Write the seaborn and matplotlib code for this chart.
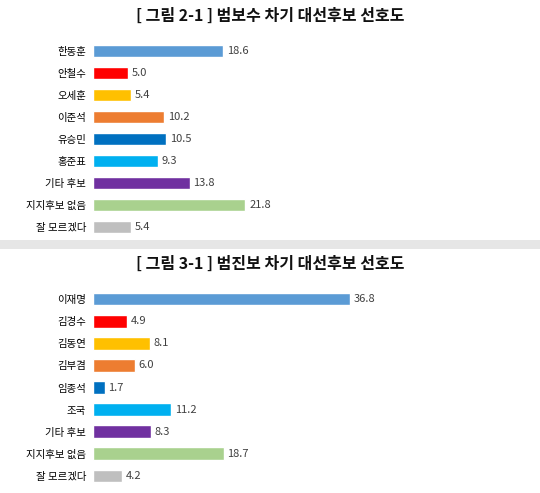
import matplotlib
matplotlib.use("Agg")
import matplotlib.pyplot as plt
import seaborn as sns
from matplotlib.patches import Rectangle

sns.set_style("white")
plt.rcParams['font.family'] = ['Noto Sans CJK KR', 'DejaVu Sans']

# 범보수
후보_보수 = ["한동훈", "안철수", "오세훈", "이준석", "유승민", "홍준표", "기타 후보", "지지후보 없음", "잘 모르겠다"]
값_보수 = [18.6, 5.0, 5.4, 10.2, 10.5, 9.3, 13.8, 21.8, 5.4]
# 범진보
후보_진보 = ["이재명", "김경수", "김동연", "김부겸", "임종석", "조국", "기타 후보", "지지후보 없음", "잘 모르겠다"]
값_진보 = [36.8, 4.9, 8.1, 6.0, 1.7, 11.2, 8.3, 18.7, 4.2]

색상 = ["#5B9BD5", "#FF0000", "#FFC000", "#ED7D31", "#0070C0",
      "#00B0F0", "#7030A0", "#A9D18E", "#BFBFBF"]

W, H = 540, 493
fig = plt.figure(figsize=(W / 100, H / 100), dpi=100)
fig.patch.set_facecolor("white")

def 패널(top_px, bottom_px, names, vals, xmax, title, title_y):
    ax = fig.add_axes([93 / W, 1 - bottom_px / H, 300 / W, (bottom_px - top_px) / H])
    sns.barplot(x=vals, y=names, hue=names, palette=색상, legend=False,
                width=0.58, ax=ax, saturation=1)
    ax.set_xlim(0, xmax)
    for i, v in enumerate(vals):
        ax.text(v + xmax * 0.012, i, f"{v:.1f}", va="center", ha="left",
                fontsize=8, color="#404040")
    ax.set_xticks([])
    ax.set_xlabel("")
    ax.set_ylabel("")
    ax.tick_params(axis="y", length=0, labelsize=7.5, pad=5, colors="#000000")
    for s in ax.spines.values():
        s.set_visible(False)
    fig.text(0.5, 1 - title_y / H, title, ha="center", va="center",
             fontsize=11.5, fontweight="bold", color="#111111")

패널(40, 238, 후보_보수, 값_보수, 42.9, "[ 그림 2-1 ] 범보수 차기 대선후보 선호도", 16)
패널(288, 487, 후보_진보, 값_진보, 42.9, "[ 그림 3-1 ] 범진보 차기 대선후보 선호도", 264)

# 구분선
fig.patches.append(Rectangle((0, 1 - 249 / H), 1, 9 / H, transform=fig.transFigure,
                             facecolor="#E6E6E6", edgecolor="none"))

fig.savefig("out.png", dpi=100)
